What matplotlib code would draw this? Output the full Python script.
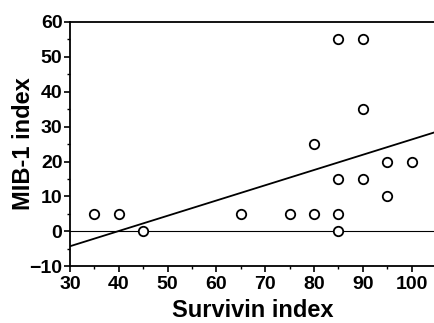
import matplotlib
matplotlib.use("Agg")
import matplotlib.pyplot as plt
from matplotlib.ticker import MultipleLocator

survivin = [35, 40, 45, 65, 75, 80, 80, 85, 85, 85, 85, 90, 90, 90, 95, 95, 100]
mib1 = [5, 5, 0, 5, 5, 5, 25, 55, 15, 5, 0, 55, 35, 15, 20, 10, 20]
line_slope = 0.437
line_intercept = -17.4
x_ticks = [30, 40, 50, 60, 70, 80, 90, 100]
y_ticks = [-10, 0, 10, 20, 30, 40, 50, 60]

plt.rcParams['font.family'] = ['Liberation Sans', 'DejaVu Sans']
fig = plt.figure(figsize=(4.35, 3.23), dpi=100)
ax = fig.add_axes([0.161, 0.176, 0.839, 0.756])

ax.set_xlim(30, 104.8)
ax.set_ylim(-10, 60)

ax.axhline(0, color='black', lw=0.8, zorder=1)
xs = [30, 104.8]
ax.plot(xs, [line_slope * x + line_intercept for x in xs], color='black', lw=1.3, zorder=2)
ax.plot(survivin, mib1, linestyle='none', marker='o', markersize=6.8,
        markerfacecolor='white', markeredgecolor='black', markeredgewidth=1.3, zorder=3)

ax.set_xticks(x_ticks)
ax.set_yticks(y_ticks)
ax.xaxis.set_minor_locator(MultipleLocator(5))
ax.yaxis.set_minor_locator(MultipleLocator(5))
ax.tick_params(which='major', direction='out', length=4, width=1.2, labelsize=14)
ax.tick_params(axis='x', which='major', pad=3)
ax.tick_params(axis='y', which='major', pad=1.5)
ax.tick_params(which='minor', direction='out', length=2, width=1)
for lab in ax.get_xticklabels() + ax.get_yticklabels():
    lab.set_fontweight('bold')

ax.spines['right'].set_visible(False)
for s in ['left', 'bottom', 'top']:
    ax.spines[s].set_linewidth(1.3)

ax.set_xlabel('Survivin index', fontsize=17, fontweight='bold', labelpad=4.5)
ax.set_ylabel('MIB-1 index', fontsize=17, fontweight='bold', labelpad=-4)

fig.savefig('out.png', dpi=100)
